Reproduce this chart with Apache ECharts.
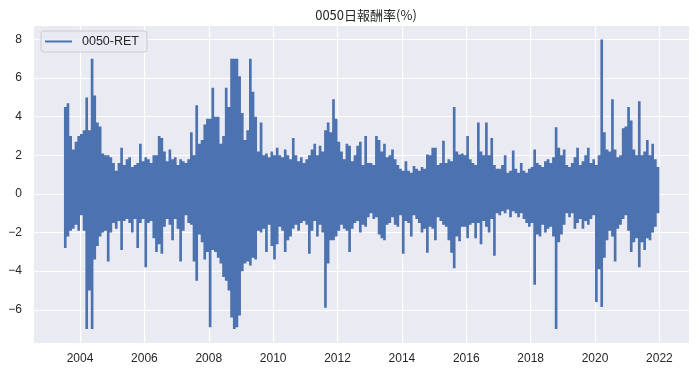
<!DOCTYPE html>
<html>
<head>
<meta charset="utf-8">
<script src="https://cdn.jsdelivr.net/npm/echarts@6/dist/echarts.min.js"></script>
<style>
html,body{margin:0;padding:0;background:#fff;}
#c{width:700px;height:374px;}
</style>
</head>
<body>
<div id="c"></div>
<script>
// ---- data (monthly high / low of the daily return, %) ----
const titleText = '0050日報酬率(%)';
const seriesName = '0050-RET';
const firstYear = 2003;
const firstMonth = 7; // July 2003
const xTicks = [2004, 2006, 2008, 2010, 2012, 2014, 2016, 2018, 2020, 2022];
const yTicks = [-6, -4, -2, 0, 2, 4, 6, 8];

const highs = [
  // 2003 Jul-Dec
  4.5, 4.7, 3.0, 2.3, 2.7, 3.0,
  // 2004
  3.1, 3.3, 5.0, 3.3, 7.0, 5.1, 3.7, 3.5, 2.1, 2.0, 2.0, 1.9,
  // 2005
  1.6, 1.2, 1.6, 2.4, 1.5, 1.8, 1.9, 1.4, 1.5, 1.6, 2.6, 1.7,
  // 2006
  1.9, 1.8, 1.6, 2.0, 2.0, 3.0, 2.9, 2.2, 1.7, 2.3, 1.8, 1.9,
  // 2007
  1.5, 1.8, 1.7, 1.6, 1.8, 3.2, 2.0, 4.6, 2.6, 2.8, 3.6, 3.9,
  // 2008
  3.9, 5.5, 4.0, 4.0, 2.6, 3.0, 5.5, 4.5, 7.0, 7.0, 7.0, 6.1,
  // 2009
  4.2, 2.8, 3.3, 7.0, 5.3, 4.0, 2.2, 3.7, 2.0, 2.1, 1.9, 2.2,
  // 2010
  2.0, 2.4, 2.0, 1.9, 2.3, 2.0, 1.8, 2.9, 2.0, 1.7, 1.9, 1.6,
  // 2011
  1.8, 2.0, 2.3, 2.6, 2.0, 2.5, 2.2, 3.3, 3.7, 3.2, 4.9, 3.9,
  // 2012
  2.7, 2.2, 1.8, 2.6, 2.5, 1.7, 2.0, 2.5, 2.7, 1.5, 3.0, 1.6,
  // 2013
  1.6, 1.5, 3.0, 2.8, 2.2, 2.6, 1.9, 2.0, 2.3, 1.8, 1.5, 1.3,
  // 2014
  1.2, 1.7, 1.2, 1.1, 1.45, 1.3, 1.2, 1.4, 1.3, 2.05, 2.0, 2.4,
  // 2015
  2.4, 1.5, 1.6, 2.75, 1.6, 1.8, 1.7, 4.5, 2.2, 2.05, 2.1, 2.0,
  // 2016
  3.0, 1.8, 1.6, 1.5, 3.7, 2.2, 2.0, 3.7, 2.0, 2.9, 1.5, 1.3,
  // 2017
  1.3, 1.5, 2.0, 1.1, 1.2, 2.25, 1.3, 1.1, 1.6, 1.2, 1.1, 1.3,
  // 2018
  1.4, 2.3, 1.6, 1.5, 1.4, 1.7, 1.8, 1.6, 1.9, 3.45, 2.4, 2.0,
  // 2019
  2.3, 1.5, 1.4, 1.6, 1.9, 2.4, 1.5, 1.7, 2.0, 2.4, 1.6, 1.8,
  // 2020
  1.5, 2.0, 8.0, 3.2, 2.3, 2.2, 4.9, 2.3, 1.9, 2.0, 3.4, 3.5,
  // 2021
  4.5, 3.8, 2.3, 2.0, 4.8, 2.0, 2.2, 2.8, 2.0, 2.6, 1.8, 1.4
];

const lows = [
  // 2003 Jul-Dec
  -2.8, -2.2, -1.9, -1.8, -1.6, -1.9,
  // 2004
  -1.1, -1.9, -7.0, -5.0, -7.0, -3.4, -2.7, -2.2, -2.0, -1.9, -3.5, -2.0,
  // 2005
  -1.5, -1.8, -1.4, -2.9, -1.4, -1.3, -1.5, -2.0, -1.3, -2.8, -1.5, -1.3,
  // 2006
  -3.8, -1.5, -1.4, -2.3, -3.0, -2.6, -3.1, -1.7, -1.3, -1.6, -2.4, -1.3,
  // 2007
  -1.8, -3.5, -1.9, -1.1, -1.5, -1.6, -3.5, -4.5, -2.1, -2.5, -3.4, -3.0,
  // 2008
  -6.9, -2.9, -3.0, -3.3, -3.6, -4.3, -4.5, -5.0, -6.4, -7.0, -6.9, -6.3,
  // 2009
  -4.0, -3.6, -3.5, -3.7, -3.3, -3.4, -1.9, -2.0, -1.8, -3.0, -1.6, -2.7,
  // 2010
  -3.4, -2.6, -1.7, -1.9, -3.0, -2.4, -2.2, -1.8, -1.6, -1.9, -1.5, -1.4,
  // 2011
  -1.6, -3.1, -1.9, -1.4, -2.2, -1.6, -2.0, -5.9, -3.6, -2.4, -2.4, -2.2,
  // 2012
  -1.9, -1.6, -1.8, -1.9, -3.0, -1.8, -1.5, -1.4, -2.0, -1.6, -1.7, -1.2,
  // 2013
  -1.0, -1.3, -1.2, -2.1, -2.3, -2.4, -1.6, -1.5, -1.2, -1.6, -1.7, -1.1,
  // 2014
  -3.1, -1.4, -1.5, -2.2, -1.1, -1.3, -1.5, -2.0, -1.8, -3.05, -1.7, -1.8,
  // 2015
  -2.4, -1.2, -1.4, -1.6, -1.7, -2.4, -3.05, -3.85, -2.2, -2.45, -1.7, -1.7,
  // 2016
  -2.3, -1.6, -1.5, -2.3, -1.5, -2.6, -1.4, -1.7, -2.0, -1.3, -3.2, -1.0,
  // 2017
  -1.1, -0.9, -1.0, -0.8, -1.2, -0.9, -1.0, -1.2, -1.0, -1.3, -1.5, -1.7,
  // 2018
  -1.5, -4.7, -2.1, -2.2, -1.6, -2.0, -1.8, -1.7, -2.2, -7.0, -2.5, -2.1,
  // 2019
  -1.6, -1.0, -1.2, -1.0, -1.8, -1.5, -1.3, -1.8, -1.4, -1.6, -1.3, -1.1,
  // 2020
  -5.6, -3.9, -5.85, -3.3, -2.4, -1.9, -2.2, -3.5, -1.8, -1.6, -1.3, -1.1,
  // 2021
  -1.9, -3.0, -2.5, -2.3, -3.8, -2.5, -2.9, -2.3, -2.4, -2.0, -1.7, -1.0
];

// ---- rows: [decimal year of the month, low, high] ----
const rows = [];
for (let i = 0; i < highs.length; i++) {
  const k = firstMonth - 1 + i;
  const yr = firstYear + Math.floor(k / 12);
  const mo = k % 12;
  rows.push([yr + (mo + 0.5) / 12, lows[i], highs[i]]);
}

const lineColor = '#4c72b0';
const tickFont = 'Liberation Sans, Arial, sans-serif';
const chart = echarts.init(document.getElementById('c'), null, {renderer: 'canvas'});
chart.setOption({
  animation: false,
  backgroundColor: '#ffffff',
  title: {
    text: titleText, left: 361, top: 4, textAlign: 'center',
    textStyle: {fontSize: 13, fontWeight: 'normal', color: '#262626', fontFamily: 'Noto Sans CJK TC'}
  },
  legend: {
    left: 41, top: 31, orient: 'horizontal',
    backgroundColor: 'rgba(234,234,242,0.8)', borderColor: '#cccccc', borderWidth: 1, borderRadius: 3,
    padding: [4, 8, 4, 4], itemWidth: 27, itemHeight: 2,
    textStyle: {fontSize: 12.5, color: '#262626', fontFamily: tickFont, padding: [0, 0, 0, 5]},
    data: [{name: seriesName, icon: 'rect', itemStyle: {color: lineColor}}]
  },
  grid: {
    left: 34, right: 11, top: 26, height: 317,
    containLabel: false, outerBoundsMode: 'none',
    show: true, backgroundColor: '#eaeaf2', borderWidth: 0
  },
  xAxis: {
    type: 'value', min: 2002.57, max: 2022.92,
    axisLine: {show: false},
    axisTick: {show: false, customValues: xTicks},
    axisLabel: {customValues: xTicks, fontSize: 12, color: '#262626', margin: 10, fontFamily: tickFont,
      formatter: v => String(Math.round(v))},
    splitLine: {show: true, lineStyle: {color: '#ffffff', width: 1.2}}
  },
  yAxis: {
    type: 'value', min: -7.72, max: 8.70,
    axisLine: {show: false},
    axisTick: {show: false, customValues: yTicks},
    axisLabel: {customValues: yTicks, fontSize: 12, color: '#262626', margin: 12, fontFamily: tickFont,
      formatter: v => (v < 0 ? '\u2212' + Math.abs(v) : String(v))},
    splitLine: {show: true, lineStyle: {color: '#ffffff', width: 1.2}}
  },
  series: [{
    name: seriesName, type: 'custom', data: rows,
    encode: {x: 0, y: [1, 2]},
    itemStyle: {color: lineColor},
    renderItem: function (params, api) {
      // one polygon for the whole band: high edge left->right, low edge right->left
      if (params.dataIndex !== 0) return null;
      const half = 1 / 24;
      const topPts = [], botPts = [];
      for (let i = 0; i < rows.length; i++) {
        const r = rows[i];
        topPts.push(api.coord([r[0] - half, r[2]]), api.coord([r[0] + half, r[2]]));
        botPts.push(api.coord([r[0] - half, r[1]]), api.coord([r[0] + half, r[1]]));
      }
      const pts = topPts.concat(botPts.reverse());
      return {type: 'polygon', shape: {points: pts}, style: {fill: lineColor, stroke: null}};
    }
  }]
});
</script>
</body>
</html>
